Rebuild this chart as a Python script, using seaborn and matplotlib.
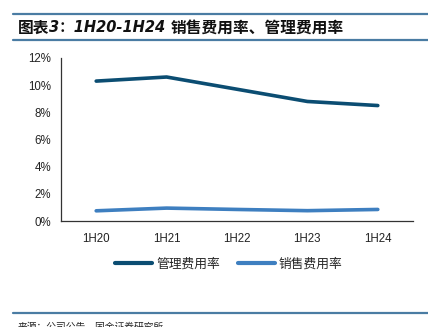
import matplotlib
matplotlib.use("Agg")
import matplotlib.pyplot as plt
import seaborn as sns
import pandas as pd
from matplotlib.ticker import FuncFormatter, FixedLocator
from matplotlib.lines import Line2D

periods = ["1H20", "1H21", "1H22", "1H23", "1H24"]
admin_rate = [10.3, 10.6, 9.7, 8.8, 8.5]      # 管理费用率 (%)
sales_rate = [0.75, 0.95, 0.85, 0.76, 0.85]   # 销售费用率 (%)
series_names = ["管理费用率", "销售费用率"]
colors = ["#0b4d72", "#3e7fc0"]
y_ticks = [0, 2, 4, 6, 8, 10, 12]

sns.set_style("white")
plt.rcParams["font.family"] = ["Liberation Sans", "Noto Sans CJK SC", "DejaVu Sans"]

df = pd.DataFrame({
    "period": periods * 2,
    "x": list(range(len(periods))) * 2,
    "rate": admin_rate + sales_rate,
    "series": [series_names[0]] * len(periods) + [series_names[1]] * len(periods),
})

fig = plt.figure(figsize=(4.28, 3.27), dpi=100)
ax = fig.add_axes([61 / 428, 1 - 221 / 327, 352 / 428, 163 / 327])

sns.lineplot(data=df, x="x", y="rate", hue="series", palette=colors,
             linewidth=2.6, legend=False, ax=ax, solid_capstyle="round")

ax.set_xlim(-0.5, len(periods) - 0.5)
ax.set_ylim(0, 12)
ax.set_xlabel("")
ax.set_ylabel("")

# category boundaries carry the tick marks, labels sit in the middle
ax.xaxis.set_major_locator(FixedLocator([i - 0.5 for i in range(len(periods) + 1)]))
ax.xaxis.set_minor_locator(FixedLocator(list(range(len(periods)))))
ax.set_xticklabels([], minor=False)
ax.set_xticklabels(periods, minor=True)
ax.tick_params(axis="x", which="major", direction="in", length=3, width=0.8, color="#333333")
ax.tick_params(axis="x", which="minor", length=0, pad=9, labelsize=8.3, labelcolor="#222222")

ax.set_yticks(y_ticks)
ax.yaxis.set_major_formatter(FuncFormatter(lambda v, _: f"{v:.0f}%"))
ax.tick_params(axis="y", direction="in", length=3, width=0.8, color="#333333",
               labelsize=8.3, labelcolor="#222222", pad=7)

for side in ["top", "right"]:
    ax.spines[side].set_visible(False)
for side in ["left", "bottom"]:
    ax.spines[side].set_color("#333333")
    ax.spines[side].set_linewidth(0.9)

handles = [Line2D([0], [0], color=c, linewidth=3.0) for c in colors]
fig.legend(handles, series_names, loc="center", bbox_to_anchor=(0.535, 1 - 264 / 327),
           ncol=2, frameon=False, handlelength=2.9, handletextpad=0.3, columnspacing=1.4,
           prop={"family": ["Noto Sans CJK SC"], "size": 9.2})

# header and footer rules
rule_color = "#4a7ca3"
for y in [13.5, 39.5, 313]:
    fig.add_artist(Line2D([13 / 428, 1], [1 - y / 327] * 2, color=rule_color, linewidth=1.6))

# title built from pieces so the Latin part can be oblique
title_y = 1 - 28 / 327
t1 = fig.text(18 / 428, title_y, "图表", family=["Noto Sans CJK SC"], weight="bold",
              fontsize=11.3, va="center", ha="left", color="#111111")
fig.canvas.draw()
bb1 = t1.get_window_extent().transformed(fig.transFigure.inverted())
t2 = fig.text(bb1.x1, title_y, "3：1H20-1H24 ", family=["DejaVu Sans", "Noto Sans CJK SC"],
              style="italic", weight="bold", fontsize=10.5, va="center", ha="left",
              color="#111111")
fig.canvas.draw()
bb2 = t2.get_window_extent().transformed(fig.transFigure.inverted())
fig.text(bb2.x1, title_y, "销售费用率、管理费用率", family=["Noto Sans CJK SC"], weight="bold",
         fontsize=11.3, va="center", ha="left", color="#111111")

fig.text(18 / 428, 1 - 327 / 327, "来源：公司公告，国金证券研究所",
         family=["Noto Sans CJK SC"], fontsize=7, va="center", ha="left", color="#222222")

fig.savefig("out.png", dpi=100)
